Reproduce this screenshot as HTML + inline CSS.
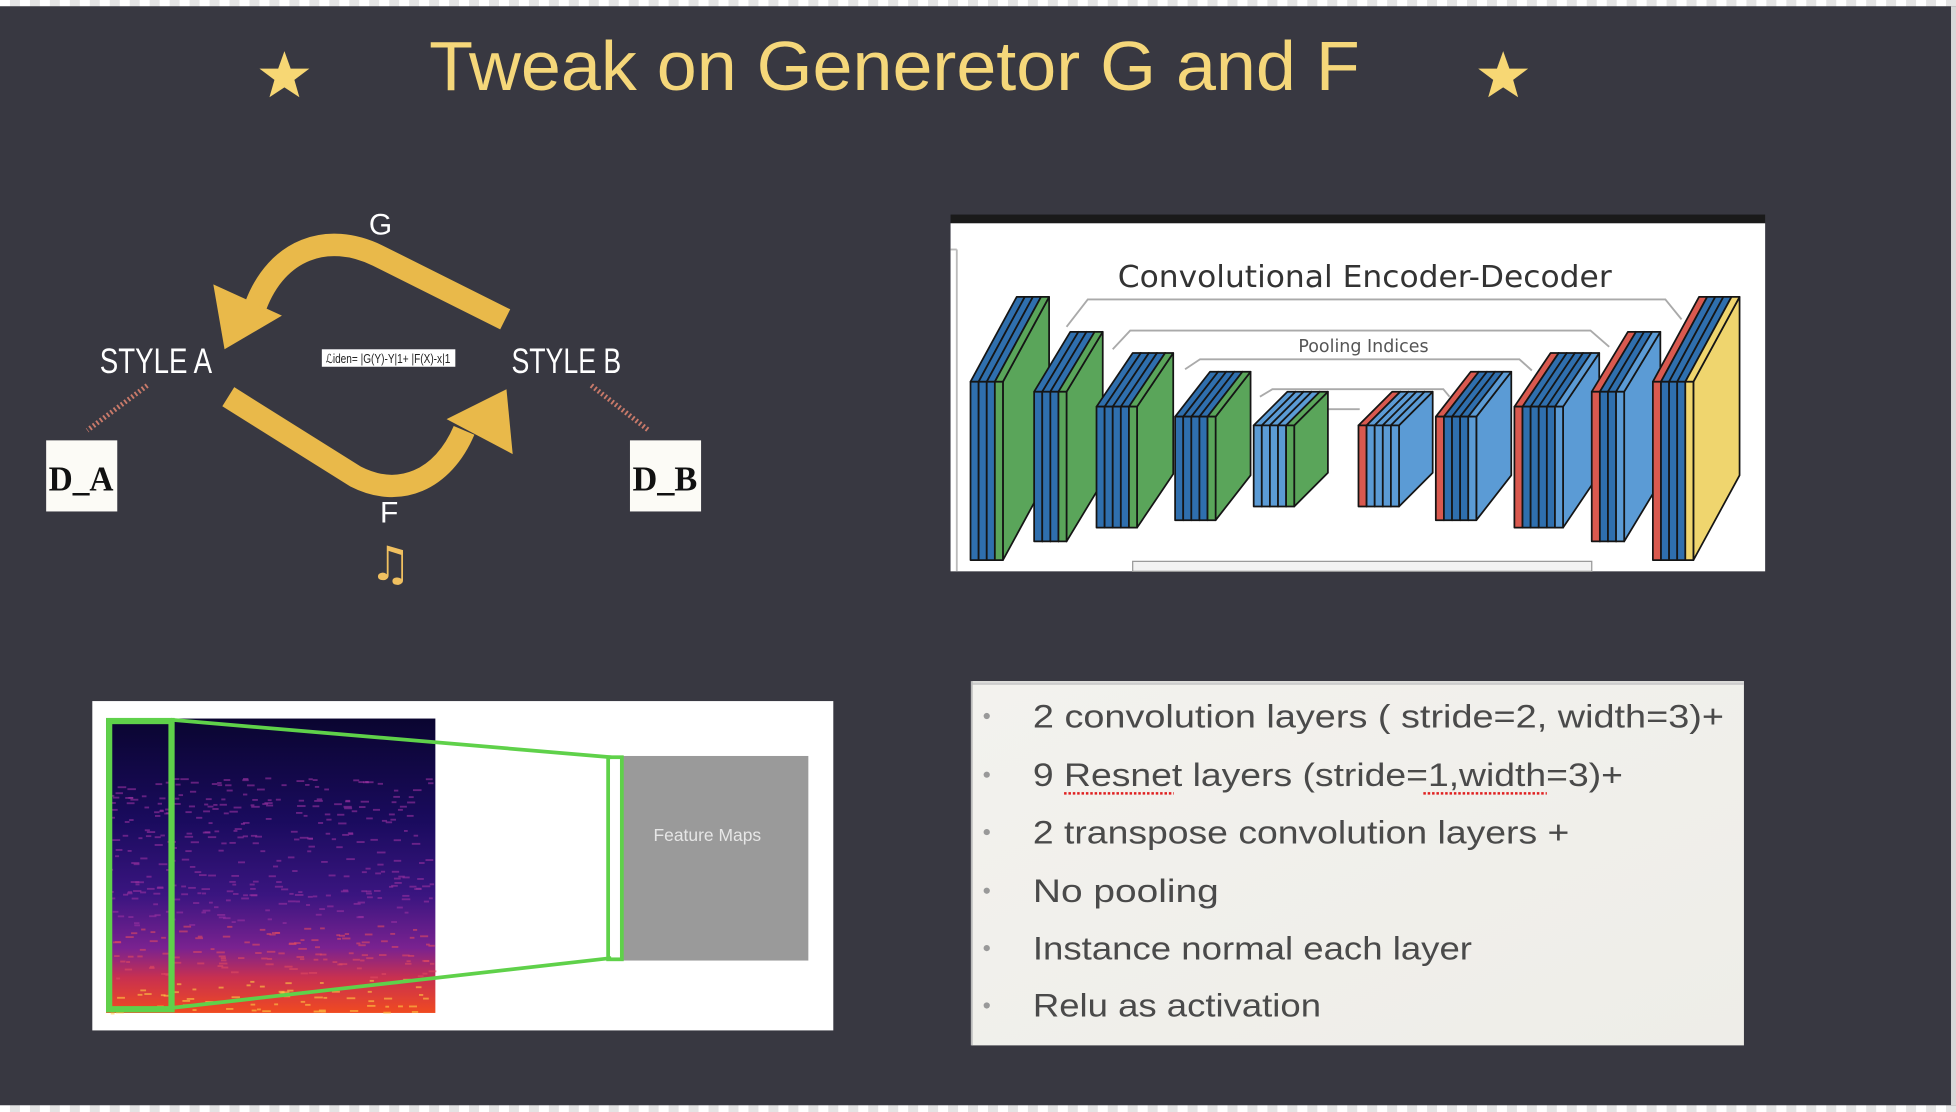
<!DOCTYPE html>
<html><head><meta charset="utf-8"><style>
html,body{margin:0;padding:0;background:#383841;}
svg{display:block}
</style></head><body>
<svg id="s" width="1956" height="1112" viewBox="0 0 1568 891.4" preserveAspectRatio="none" xmlns="http://www.w3.org/2000/svg">
<defs>
<pattern id="chk" width="16" height="6" patternUnits="userSpaceOnUse"><rect width="16" height="6" fill="#e4e4e4"/><rect x="0" width="8" height="6" fill="#ffffff"/></pattern>
<linearGradient id="spec" x1="0" y1="0" x2="0" y2="1">
<stop offset="0" stop-color="#0a0530"/><stop offset="0.35" stop-color="#1a0b5e"/><stop offset="0.6" stop-color="#3a1580"/><stop offset="0.78" stop-color="#7a2290"/><stop offset="0.88" stop-color="#c83050"/><stop offset="1" stop-color="#f04a20"/>
</linearGradient>
<linearGradient id="paper" x1="0" y1="0" x2="1" y2="1"><stop offset="0" stop-color="#f3f2ee"/><stop offset="1" stop-color="#eeede8"/></linearGradient>
</defs>
<rect width="1568" height="892" fill="#383841"/>
<rect x="0" y="0" width="1568" height="5" fill="url(#chk)"/>
<rect x="0" y="886" width="1568" height="6" fill="url(#chk)"/>
<rect x="1564" y="5" width="4" height="881" fill="#d8d8d8"/>

<!-- title -->
<text x="717" y="72" text-anchor="middle" font-family="Liberation Sans, sans-serif" font-size="56" fill="#f5d77a" textLength="746" lengthAdjust="spacingAndGlyphs">Tweak on Generetor G and F</text>
<polygon id="star" fill="#f7d774" points="228,41 233,55 248,55 236,64 240,78 228,70 216,78 220,64 208,55 223,55"/>
<use href="#star" transform="translate(977,0)"/>

<!-- cycle diagram -->
<path d="M405,256 L303,205 C262,185 222,200 205,245" fill="none" stroke="#e9b94a" stroke-width="18"/>
<polygon points="171,228 226,253 180,280" fill="#e9b94a"/>
<path d="M183,318 L285,382 C320,400 355,385 372,345" fill="none" stroke="#e9b94a" stroke-width="18"/>
<polygon points="358,336 406,312 411,364" fill="#e9b94a"/>
<text x="305" y="188" text-anchor="middle" font-family="Liberation Sans Narrow, Liberation Sans, sans-serif" font-size="24" fill="#fff">G</text>
<text x="312" y="419" text-anchor="middle" font-family="Liberation Sans Narrow, Liberation Sans, sans-serif" font-size="24" fill="#fff">F</text>
<text x="125" y="299" text-anchor="middle" font-family="Liberation Sans Narrow, Liberation Sans, sans-serif" font-size="28" fill="#fff" textLength="90" lengthAdjust="spacingAndGlyphs">STYLE A</text>
<text x="454" y="299" text-anchor="middle" font-family="Liberation Sans Narrow, Liberation Sans, sans-serif" font-size="28" fill="#fff" textLength="88" lengthAdjust="spacingAndGlyphs">STYLE B</text>
<rect x="258" y="280" width="107" height="14" fill="#fff"/>
<text x="311" y="291" text-anchor="middle" font-family="Liberation Sans, sans-serif" font-size="10" fill="#222" textLength="100" lengthAdjust="spacingAndGlyphs">ℒiden= |G(Y)-Y|1+ |F(X)-x|1</text>
<line x1="118" y1="309" x2="70" y2="345" stroke="#c97a6a" stroke-width="4" stroke-dasharray="1.5,2"/>
<line x1="474" y1="309" x2="520" y2="345" stroke="#c97a6a" stroke-width="4" stroke-dasharray="1.5,2"/>
<rect x="37" y="353" width="57" height="57" fill="#fcfbf6"/>
<rect x="505" y="353" width="57" height="57" fill="#fcfbf6"/>
<text x="65" y="393" text-anchor="middle" font-family="Liberation Serif, serif" font-weight="bold" font-size="28" fill="#111" textLength="52" lengthAdjust="spacingAndGlyphs">D_A</text>
<text x="533" y="393" text-anchor="middle" font-family="Liberation Serif, serif" font-weight="bold" font-size="28" fill="#111" textLength="52" lengthAdjust="spacingAndGlyphs">D_B</text>
<text x="313" y="465" text-anchor="middle" font-family="DejaVu Sans, sans-serif" font-size="38" fill="#f0c060">♫</text>

<!-- conv encoder-decoder image -->
<rect x="762" y="172" width="653" height="7" fill="#1a1a1a"/>
<rect x="762" y="179" width="653" height="279" fill="#fff"/>
<line x1="767" y1="200" x2="767" y2="458" stroke="#bbb" stroke-width="1.5"/>
<line x1="762" y1="200" x2="767" y2="200" stroke="#bbb" stroke-width="1.5"/>
<rect x="908" y="450" width="368" height="8" fill="#f2f2f2" stroke="#999" stroke-width="1"/>
<text x="1094" y="230" text-anchor="middle" font-family="DejaVu Sans, sans-serif" font-size="24" fill="#333" textLength="396" lengthAdjust="spacingAndGlyphs">Convolutional Encoder-Decoder</text>
<text x="1093" y="282" text-anchor="middle" font-family="DejaVu Sans, sans-serif" font-size="14" fill="#555">Pooling Indices</text>
<g fill="none" stroke="#aaa" stroke-width="1.5">
<polyline points="855,262 872,240 1335,240 1348,256"/>
<polyline points="892,280 906,265 1275,265 1290,278"/>
<polyline points="950,296 962,288 1218,288 1228,297"/>
<polyline points="1010,318 1020,312 1157,312 1162,318"/>
<polyline points="1065,328 1090,328"/>
</g>
<g id="layers" stroke="#151515" stroke-width="1.4" stroke-linejoin="round"></g>

<!-- spectrogram panel -->
<rect x="74" y="562" width="594" height="264" fill="#fff"/>
<rect x="85" y="576" width="264" height="236" fill="url(#spec)"/>
<g id="dots"></g>
<rect x="497" y="606" width="151" height="164" fill="#9a9a9a"/>
<text x="567" y="674" text-anchor="middle" font-family="Liberation Sans, sans-serif" font-size="14" fill="#e6e6e6">Feature Maps</text>
<rect x="87.5" y="578" width="50" height="231" fill="none" stroke="#5fd14a" stroke-width="5"/>
<rect x="487.5" y="607" width="11" height="162" fill="none" stroke="#5fd14a" stroke-width="3"/>
<line x1="137" y1="577" x2="490" y2="607" stroke="#5fd14a" stroke-width="3"/>
<line x1="137" y1="808" x2="490" y2="768" stroke="#5fd14a" stroke-width="3"/>

<!-- bullet panel -->
<rect x="779" y="546" width="619" height="292" fill="url(#paper)"/>
<line x1="779" y1="548" x2="1398" y2="548" stroke="#ccc" stroke-width="2"/>
<line x1="779" y1="546" x2="779" y2="838" stroke="#bbb" stroke-width="1.5"/>
<g font-family="Liberation Sans, sans-serif" font-size="26" fill="#4a4a4a">
<text x="828" y="583" textLength="554" lengthAdjust="spacingAndGlyphs">2 convolution layers ( stride=2, width=3)+</text>
<text x="828" y="630" textLength="473" lengthAdjust="spacingAndGlyphs">9 Resnet layers (stride=1,width=3)+</text>
<text x="828" y="676" textLength="430" lengthAdjust="spacingAndGlyphs">2 transpose convolution layers +</text>
<text x="828" y="723" textLength="149" lengthAdjust="spacingAndGlyphs">No pooling</text>
<text x="828" y="769" textLength="352" lengthAdjust="spacingAndGlyphs">Instance normal each layer</text>
<text x="828" y="815" textLength="231" lengthAdjust="spacingAndGlyphs">Relu as activation</text>
</g>
<g fill="#999"><circle cx="791" cy="574" r="2.5"/><circle cx="791" cy="621" r="2.5"/><circle cx="791" cy="667" r="2.5"/><circle cx="791" cy="714" r="2.5"/><circle cx="791" cy="760" r="2.5"/><circle cx="791" cy="806" r="2.5"/></g>
<line x1="853" y1="636" x2="941" y2="636" stroke="#e02020" stroke-width="2" stroke-dasharray="2,1.5"/>
<line x1="1141" y1="636" x2="1240" y2="636" stroke="#e02020" stroke-width="2" stroke-dasharray="2,1.5"/>
</svg>
<script>
(function(){
var NS="http://www.w3.org/2000/svg",L=document.getElementById("layers");
var C={b:"#2f6fae",L:"#5b9bd5",g:"#5aa55a",r:"#d9594f",y:"#efd56e"};
function sh(c,f){ // shade side
 return c;}
function poly(p,f){var e=document.createElementNS(NS,"polygon");e.setAttribute("points",p.map(function(a){return a.join(",")}).join(" "));e.setAttribute("fill",f);L.appendChild(e);}
var G=[[778,306,449,37,-68,"bbbg"],[829,314,434,29,-48,"bbbg"],[879,326,423,29,-43,"bbbbg"],[942,334,417,28,-36,"bbbbg"],[1005,341,406,27,-27,"LLLLg"],
[1089,341,406,27,-27,"rLLLL"],[1151,334,417,28,-36,"rbbbL"],[1214,326,423,29,-43,"rbbbbL"],[1276,314,434,29,-48,"rbbL"],[1325,306,449,37,-68,"rbbby"]];
G.forEach(function(g){var x=g[0],t=g[1],b=g[2],dx=g[3],dy=g[4],s=g[5],w=6.5;
 for(var i=0;i<s.length;i++){var c=C[s[i]],X=x+i*w;
  poly([[X+w,t],[X+w+dx,t+dy],[X+w+dx,b+dy],[X+w,b]],c);
  poly([[X,t],[X+dx,t+dy],[X+w+dx,t+dy],[X+w,t]],c);
  poly([[X,t],[X+w,t],[X+w,b],[X,b]],c);
 }});
var D=document.getElementById("dots"),seed=7;function r(){seed=(seed*9301+49297)%233280;return seed/233280;}
for(var i=0;i<500;i++){var y=576+236*(0.2+0.8*r()),x=85+262*r();var e=document.createElementNS(NS,"rect");
 var f=(y-576)/236;e.setAttribute("x",x);e.setAttribute("y",y);e.setAttribute("width",3+4*r());e.setAttribute("height",1.5);
 e.setAttribute("fill",f>0.88?"#ffcc44":f>0.7?"#e04a60":"#9a30a0");e.setAttribute("opacity",0.6);D.appendChild(e);}
})();
</script>
</body></html>
